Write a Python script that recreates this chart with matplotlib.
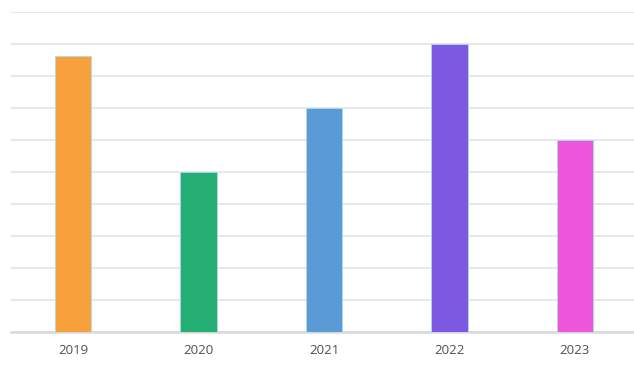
import matplotlib
matplotlib.use("Agg")
import matplotlib.pyplot as plt

years = ["2019", "2020", "2021", "2022", "2023"]
values = [86, 50, 70, 90, 60]
colors = ["#F7A03C", "#25AE74", "#5B9BD5", "#7B59E0", "#EE55DD"]

fig = plt.figure(figsize=(6.34, 3.65), dpi=100)
ax = fig.add_axes([10.5/634, 1 - 331.5/365, 627/634, 320/365])
x = list(range(len(years)))
ax.bar(x, values, width=0.29, color=colors, edgecolor="#a9dcf0", linewidth=0.6, zorder=3)
ax.set_xlim(-0.5, len(years) - 0.5)
ax.set_ylim(0, 100)
ax.set_yticks(range(0, 101, 10))
ax.yaxis.grid(True, color="#e6e6e6", linewidth=1.3, zorder=0)
ax.tick_params(axis="y", left=False, labelleft=False)
ax.tick_params(axis="x", length=0, pad=9, labelsize=9.5, labelcolor="#505050")
ax.set_xticks(x)
ax.set_xticklabels(years, fontfamily="Open Sans")
for s in ["top", "right", "left"]:
    ax.spines[s].set_visible(False)
ax.spines["bottom"].set_color("#d9d9d9")
ax.spines["bottom"].set_linewidth(1.8)
fig.savefig("out.png", dpi=100)
